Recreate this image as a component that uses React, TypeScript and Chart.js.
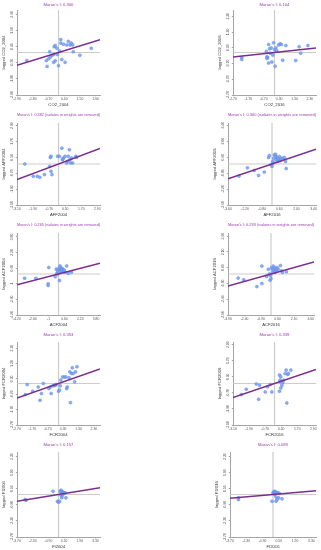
import React, { useEffect, useRef } from "react";
import { Chart, registerables } from "chart.js";
Chart.register(...registerables);

// ---------- data ----------
const VARIABLES = ["CO2_2004", "CO2_2016", "AFF2004", "AFF2016", "ACF2004", "ACF2016", "FCR2004", "FCR2016", "FI2004", "FI2016"];
const MORANS_I = [0.3, 0.104, 0.382, 0.36, 0.265, 0.293, 0.353, 0.339, 0.157, 0.089];
const ISOLATES_REMOVED = [false, false, true, true, true, true, false, false, false, false];

const TICKS_CO2_2004 = ["-2.90", "-1.80", "-0.70", "0.40", "1.50", "2.60"];
const TICKS_CO2_2016 = ["-2.70", "-1.70", "-0.70", "0.30", "1.30", "2.30"];
const TICKS_AFF2004 = ["-3.10", "-1.90", "-0.70", "0.50", "1.70", "2.90"];
const TICKS_AFF2016 = ["-3.60", "-2.20", "-0.80", "0.60", "2.00", "3.40"];
const TICKS_ACF2004 = ["-4.20", "-2.60", "-1", "0.60", "2.20", "3.80"];
const TICKS_ACF2016 = ["-3.90", "-2.40", "-0.90", "0.60", "2.10", "3.60"];
const TICKS_FCR2004 = ["-2.70", "-1.70", "-0.70", "0.30", "1.30", "2.30"];
const TICKS_FCR2016 = ["-3.10", "-1.90", "-0.70", "0.50", "1.70", "2.90"];
const TICKS_FI2004 = ["-3.70", "-2.30", "-0.90", "0.50", "1.90", "3.30"];
const TICKS_FI2016 = ["-3.70", "-2.30", "-0.90", "0.50", "1.90", "3.30"];

const CO2_2004_X = [-2.22, -0.8, -0.85, -0.69, -0.62, -0.57, -0.46, -0.34, -0.34, -0.3, -0.23, -0.23, -0.11, -0.07, 0.0, 0.07, 0.16, 0.16, 0.23, 0.34, 0.46, 0.57, 0.69, 0.8, 0.89, 0.99, 1.03, 1.49, 2.29];
const CO2_2004_LAG = [-0.55, -0.95, -0.55, -0.43, 0.05, -0.31, -0.19, -0.14, -0.67, 0.4, 0.48, -0.57, 0.29, -0.14, -0.9, 0.1, 0.64, 0.88, -0.48, 0.57, -0.67, 0.52, 0.76, 0.52, 0.64, 0.52, 0.05, -0.19, 0.29];

const CO2_2016_X = [-2.13, -2.13, -0.53, -0.49, -0.45, -0.49, -0.38, -0.38, -0.32, -0.28, -0.21, -0.17, -0.11, -0.06, 0.0, 0.04, 0.09, 0.15, 0.26, 0.36, 0.45, 0.53, 0.74, 1.38, 1.6, 1.7, 2.17];
const CO2_2016_LAG = [-0.31, -0.44, 0.07, -0.27, -0.33, -0.38, 0.51, -0.67, 0.24, -0.04, 0.29, -0.6, -0.16, 0.62, 0.18, -0.87, 0.29, 0.11, 0.47, 0.56, 0.51, -0.49, 0.44, -0.51, 0.36, -0.04, 0.44];

const AFF2004_X = [-2.52, -1.89, -1.59, -1.4, -1.05, -0.66, -0.61, -0.56, -0.56, -0.49, -0.07, 0.07, 0.25, 0.29, 0.37, 0.32, 0.49, 0.61, 0.69, 0.74, 0.81, 0.86, 0.91, 0.98, 1.05, 1.3, 1.35];
const AFF2004_LAG = [0.0, -0.93, -0.93, -1.0, -0.8, -0.18, 0.5, 0.58, -0.55, -0.8, 0.58, 0.58, 1.2, 0.33, 0.45, 0.38, 0.58, 0.08, 0.2, 0.58, 1.08, 0.33, 0.08, 0.45, 0.08, 0.58, 0.5];

const AFF2016_X = [-2.7, -2.01, -1.46, -1.1, -0.63, -0.28, -0.22, 0.0, 0.06, 0.11, 0.14, 0.19, 0.28, 0.33, 0.33, 0.39, 0.47, 0.47, 0.55, 0.61, 0.66, 0.74, 0.88, 1.02, 1.1, 1.16, -0.08];
const AFF2016_LAG = [-1.06, -0.34, -0.57, -1.0, -0.71, 0.57, 0.74, -0.2, 0.23, 0.09, 0.51, 0.8, 0.86, 0.66, 0.37, 0.57, 0.51, 0.23, 0.37, 0.66, 0.29, 0.51, 0.51, 0.57, 0.23, -0.4, -0.06];

const ACF2004_X = [-3.43, -2.29, -0.98, -1.05, -1.05, -0.33, -0.23, -0.16, -0.1, 0.0, 0.1, 0.1, 0.16, 0.23, 0.26, 0.33, 0.42, 0.49, 0.59, 0.65, 0.82, 0.98, 1.31, -0.1, 0.16, 0.33];
const ACF2004_LAG = [-0.43, -0.43, 0.67, -1.0, -1.17, -0.27, 0.5, 0.07, 0.33, 0.5, -0.67, 0.67, 0.83, 0.4, 0.17, 0.6, 0.5, 0.33, 0.4, 0.17, 0.83, 0.07, 0.17, 0.0, 0.27, 0.33];

const ACF2016_X = [-2.98, -2.47, -1.28, -0.83, -0.83, -0.39, -0.24, -0.15, -0.09, 0.0, 0.06, 0.15, 0.21, 0.27, 0.36, 0.36, 0.45, 0.51, 0.57, 0.65, 0.86, 0.95, 1.04, 1.4, 0.15, -0.03];
const ACF2016_LAG = [-0.39, -0.54, -1.2, 0.75, -0.9, -0.24, 0.45, 0.0, -0.6, -0.45, 0.6, 0.45, 0.75, 0.3, 0.6, 0.15, 0.45, 0.3, 0.6, 0.45, 0.81, 0.3, 0.15, 0.21, 0.15, -0.15];

const FCR2004_X = [-2.16, -2.04, -1.68, -1.32, -1.2, -1.11, -0.99, -0.63, -0.53, -0.48, -0.36, -0.27, -0.21, -0.15, 0.0, 0.06, 0.11, 0.15, 0.27, 0.38, 0.48, 0.53, 0.57, 0.69, 0.74, 0.78, 0.84, 0.9, 0.95, 1.05, 1.11, 1.2];
const FCR2004_LAG = [-0.72, -0.07, -0.5, -0.22, -1.09, -0.65, 0.0, -0.33, -0.22, -0.65, -0.15, -0.11, -0.11, -0.07, -0.5, -0.43, -0.15, 0.22, 0.43, 0.43, 0.43, -0.33, -0.22, 0.37, 0.76, -1.24, 0.65, 1.02, 0.65, 0.11, 0.76, 1.09];

const FCR2016_X = [-2.48, -2.11, -1.36, -1.12, -0.69, -0.52, -0.32, -0.2, -1.19, 0.37, 0.42, 0.47, 0.55, 0.37, 0.42, 0.62, 0.79, 0.87, 0.99, 1.04, 1.22, 0.92, 0.67, 0.47];
const FCR2016_LAG = [-0.83, -0.43, -0.03, -0.13, -0.63, -0.25, -0.08, -0.63, -1.18, 0.63, 0.25, -0.33, -0.13, -0.58, 0.13, 0.08, 0.75, 1.0, 0.68, 0.75, 1.0, -1.45, 0.25, 0.5];

const FI2004_X = [-2.98, -2.89, -0.49, -0.09, 0.0, 0.09, 0.14, 0.2, 0.29, 0.29, 0.38, 0.43, 0.49, 0.58, 0.29, 0.66, 0.23, 0.38];
const FI2004_LAG = [-0.44, -0.5, 0.29, -0.59, -0.68, -0.59, 0.29, 0.0, 0.29, -0.15, 0.21, 0.15, 0.09, 0.15, -0.29, -0.29, 0.38, 0.0];

const FI2016_X = [-2.97, -2.97, -0.09, 0.0, 0.06, 0.14, 0.2, 0.26, 0.35, 0.43, 0.26, 0.35, 0.26, 0.49, 0.78, 0.14, 0.55];
const FI2016_LAG = [-0.29, -0.44, -0.59, 0.15, 0.21, 0.29, 0.15, 0.21, 0.15, 0.15, -0.21, -0.44, -0.59, -0.29, -0.38, 0.0, 0.09];

const SERIES_X = [CO2_2004_X, CO2_2016_X, AFF2004_X, AFF2016_X, ACF2004_X, ACF2016_X, FCR2004_X, FCR2016_X, FI2004_X, FI2016_X];
const SERIES_LAG = [CO2_2004_LAG, CO2_2016_LAG, AFF2004_LAG, AFF2016_LAG, ACF2004_LAG, ACF2016_LAG, FCR2004_LAG, FCR2016_LAG, FI2004_LAG, FI2016_LAG];
const SERIES_TICKS = [TICKS_CO2_2004, TICKS_CO2_2016, TICKS_AFF2004, TICKS_AFF2016, TICKS_ACF2004, TICKS_ACF2016, TICKS_FCR2004, TICKS_FCR2016, TICKS_FI2004, TICKS_FI2016];

// ---------- layout (page px: plot left/right/top/bottom, title centre y) ----------
const LAYOUT = [
  { l: 17, r: 100, t: 10, b: 95, ty: 5 },
  { l: 233, r: 316, t: 10, b: 95, ty: 5 },
  { l: 17, r: 100, t: 123, b: 205, ty: 115 },
  { l: 228, r: 316, t: 123, b: 205, ty: 115 },
  { l: 17, r: 100, t: 233, b: 315, ty: 225 },
  { l: 228, r: 314, t: 233, b: 315, ty: 225 },
  { l: 17, r: 100, t: 342, b: 425, ty: 335 },
  { l: 233, r: 316, t: 342, b: 425, ty: 335 },
  { l: 17, r: 100, t: 452, b: 537, ty: 445 },
  { l: 230, r: 316, t: 452, b: 537, ty: 445 },
];

const FONT = '"Liberation Sans", Arial, sans-serif';
const Y_AXIS_W = 17;
const X_AXIS_H = 13;
const RIGHT_PAD = 4;
const TITLE_LH = 6;
const PURPLE_TITLE = "#9a3bb0";
const PURPLE_LINE = "#7a2d90";
const POINT_FILL = "rgba(120,160,240,0.85)";
const POINT_EDGE = "#5f8ae8";
const ZERO_LINE = "#cccccc";
const AXIS = "#a5a5a5";

function Panel({ idx }: { idx: number }) {
  const ref = useRef<HTMLCanvasElement>(null);
  const lay = LAYOUT[idx];
  const top = Math.round(lay.ty - TITLE_LH / 2);
  const left = lay.l - Y_AXIS_W;
  const width = lay.r - lay.l + Y_AXIS_W + RIGHT_PAD;
  const height = lay.b - top + X_AXIS_H + 1;
  const gap = lay.t - top - TITLE_LH;

  useEffect(() => {
    const labels = SERIES_TICKS[idx];
    const tickVals = labels.map(Number);
    const lim = Math.abs(tickVals[0]);
    const I = MORANS_I[idx];
    const name = VARIABLES[idx];
    const pts = SERIES_X[idx].map((v, i) => ({ x: v, y: SERIES_LAG[idx][i] }));
    const title = "Moran's I: " + I.toFixed(3) + (ISOLATES_REMOVED[idx] ? " (isolates in weights are removed)" : "");

    const setTicks = (s: any) => {
      s.ticks = tickVals.map((v) => ({ value: v }));
    };
    const tickFont = { size: 3.4, family: FONT };
    const titleFont = { size: 4.2, family: FONT };

    const chart = new Chart(ref.current!, {
      type: "scatter",
      data: {
        datasets: [
          {
            data: [
              { x: -lim, y: -lim * I },
              { x: lim, y: lim * I },
            ],
            showLine: true,
            borderColor: PURPLE_LINE,
            borderWidth: 1.5,
            pointRadius: 0,
          },
          {
            data: pts,
            pointRadius: 1.5,
            backgroundColor: POINT_FILL,
            borderColor: POINT_EDGE,
            borderWidth: 0.5,
          },
          {
            data: [
              { x: -lim, y: 0 },
              { x: lim, y: 0 },
            ],
            showLine: true,
            borderColor: ZERO_LINE,
            borderWidth: 1.2,
            pointRadius: 0,
          },
          {
            data: [
              { x: 0, y: -lim },
              { x: 0, y: lim },
            ],
            showLine: true,
            borderColor: ZERO_LINE,
            borderWidth: 1.2,
            pointRadius: 0,
          },
        ],
      } as any,
      options: {
        animation: false,
        responsive: false,
        devicePixelRatio: 1,
        events: [],
        layout: { autoPadding: false, padding: { left: 0, top: 0, right: RIGHT_PAD, bottom: 1 } },
        plugins: {
          legend: { display: false },
          tooltip: { enabled: false },
          title: {
            display: true,
            text: title,
            color: PURPLE_TITLE,
            fullSize: false,
            font: { size: 4.2, family: FONT, lineHeight: TITLE_LH + "px", weight: "normal" },
            padding: { top: 0, bottom: gap },
          },
        },
        scales: {
          x: {
            type: "linear",
            min: -lim,
            max: lim,
            afterBuildTicks: setTicks,
            afterFit: (s: any) => {
              s.height = X_AXIS_H;
            },
            ticks: {
              callback: (_v: any, i: number) => labels[i],
              font: tickFont,
              color: "#555",
              padding: 0.5,
              autoSkip: false,
              minRotation: 0,
              maxRotation: 0,
            },
            grid: { display: true, drawOnChartArea: false, drawTicks: true, tickLength: 1.2, color: AXIS },
            border: { display: true, color: AXIS, width: 1 },
            title: { display: true, text: name, font: titleFont, color: "#333", padding: { top: 0, bottom: 0.5 } },
          },
          y: {
            type: "linear",
            min: -lim,
            max: lim,
            afterBuildTicks: setTicks,
            afterFit: (s: any) => {
              s.width = Y_AXIS_W;
            },
            ticks: {
              callback: (_v: any, i: number) => labels[i],
              font: tickFont,
              color: "#555",
              padding: 0,
              autoSkip: false,
              minRotation: 90,
              maxRotation: 90,
              crossAlign: "center",
            },
            grid: { display: true, drawOnChartArea: false, drawTicks: true, tickLength: 1.2, color: AXIS },
            border: { display: true, color: AXIS, width: 1 },
            title: { display: true, text: "lagged " + name, font: titleFont, color: "#333", padding: { top: 1.4, bottom: 0 } },
          },
        },
      } as any,
    });
    return () => chart.destroy();
  }, [idx]);

  return (
    <canvas
      ref={ref}
      width={width}
      height={height}
      style={{ position: "absolute", left, top, width, height }}
    />
  );
}

export default function App() {
  return (
    <div style={{ position: "absolute", left: 0, top: 0, width: 321, height: 550, background: "#fff", overflow: "hidden" }}>
      {VARIABLES.map((_, i) => (
        <Panel key={i} idx={i} />
      ))}
    </div>
  );
}
